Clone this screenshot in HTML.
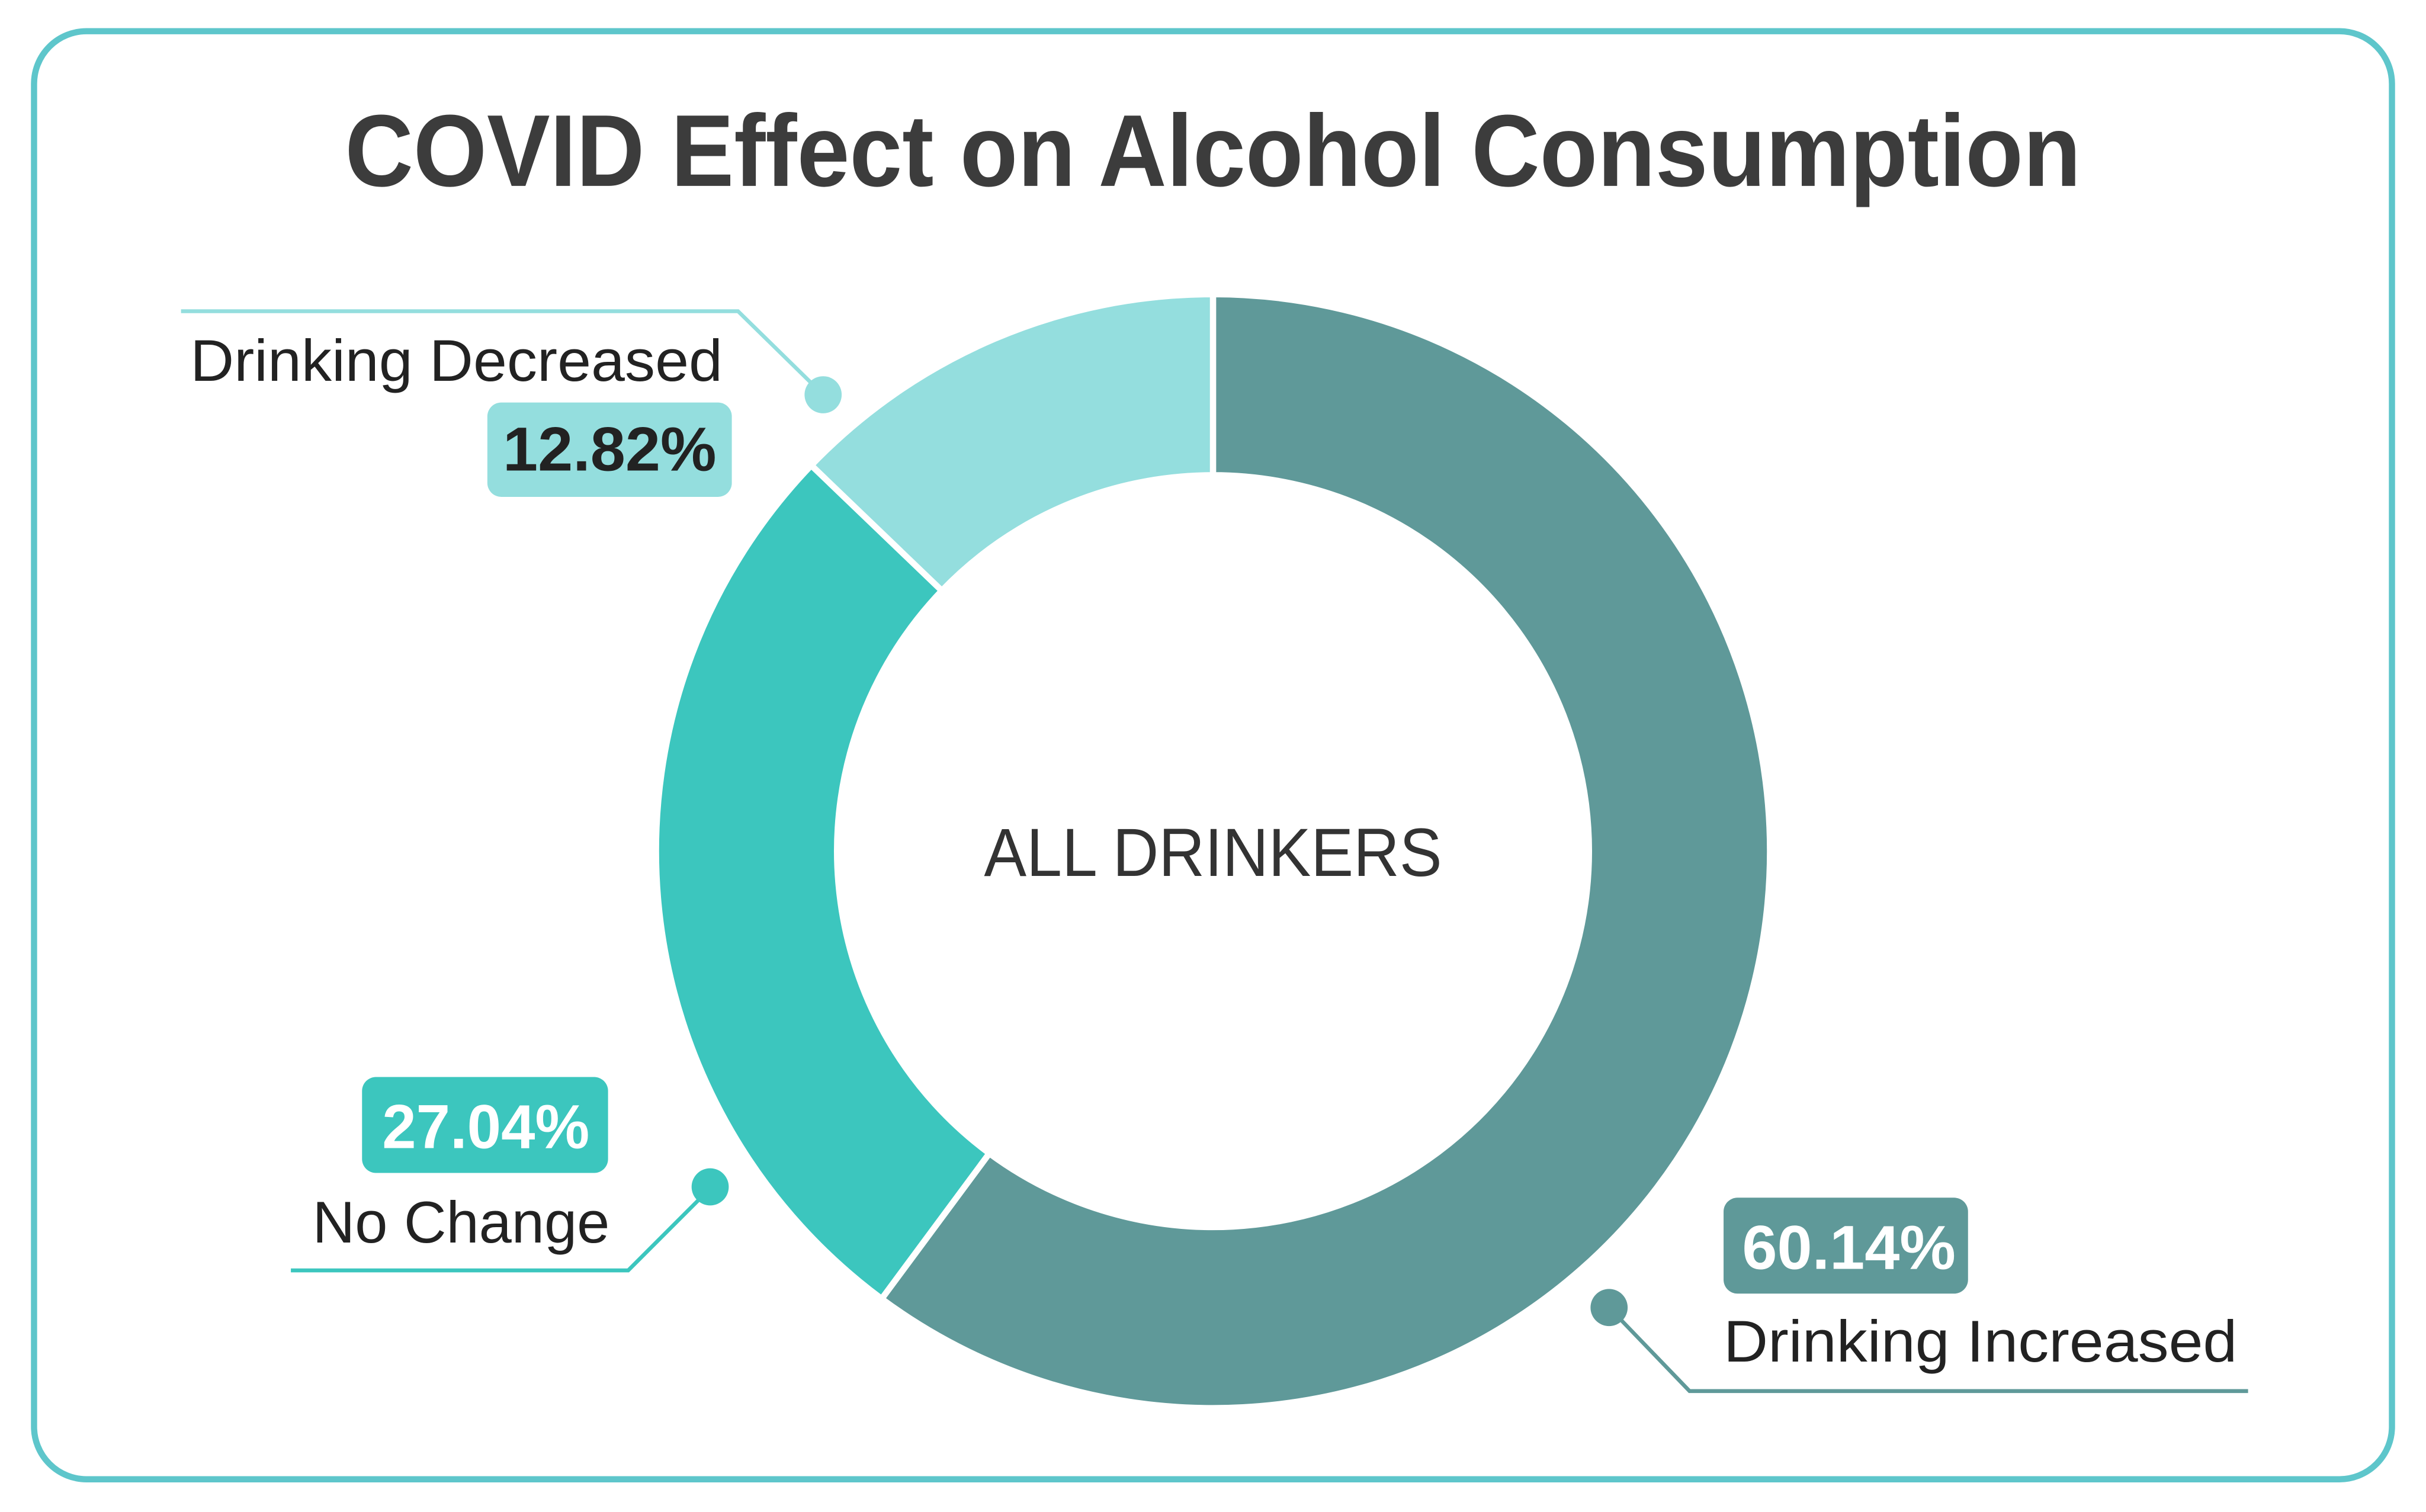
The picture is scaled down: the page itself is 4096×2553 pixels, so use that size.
<!DOCTYPE html>
<html><head><meta charset="utf-8"><style>
html,body{margin:0;padding:0;background:#fff;}
svg{display:block;}
text{font-family:"Liberation Sans",sans-serif;}
</style></head><body>
<svg id="chart" width="4096" height="2553" viewBox="0 0 1568 977" xmlns="http://www.w3.org/2000/svg">
<rect x="22" y="20" width="1524" height="936" rx="34" fill="#fff" stroke="#5ec6cb" stroke-width="4"/>
<text x="784" y="120" text-anchor="middle" font-size="66" font-weight="bold" fill="#3c3c3c" textLength="1122" lengthAdjust="spacingAndGlyphs">COVID Effect on Alcohol Consumption</text>
<g id="slices"></g>
<text x="784" y="566" text-anchor="middle" font-size="44" fill="#333" textLength="296" lengthAdjust="spacingAndGlyphs">ALL DRINKERS</text>

<g>
<polyline points="117,201 477,201 526,249" fill="none" stroke="#94dede" stroke-width="2.5"/>
<circle cx="532" cy="255" r="12" fill="#94dede"/>
<text x="467" y="246" text-anchor="end" font-size="38" fill="#222" textLength="344" lengthAdjust="spacingAndGlyphs">Drinking Decreased</text>
<rect x="315" y="260" width="158" height="61" rx="9" fill="#94dede"/>
<text id="pct-decreased" x="394" y="304" text-anchor="middle" font-size="40" font-weight="bold" fill="#222" textLength="138" lengthAdjust="spacingAndGlyphs"></text>
</g>

<g>
<polyline points="188,821 406,821 452,775" fill="none" stroke="#3cc6be" stroke-width="2.5"/>
<circle cx="459" cy="767" r="12" fill="#3cc6be"/>
<rect x="234" y="696" width="159" height="62" rx="9" fill="#3cc6be"/>
<text id="pct-nochange" x="314" y="742" text-anchor="middle" font-size="40" font-weight="bold" fill="#fff" textLength="134" lengthAdjust="spacingAndGlyphs"></text>
<text x="394" y="803" text-anchor="end" font-size="38" fill="#222" textLength="192" lengthAdjust="spacingAndGlyphs">No Change</text>
</g>

<g>
<polyline points="1040,845 1092,899 1453,899" fill="none" stroke="#5f9999" stroke-width="2.5"/>
<circle cx="1040" cy="845" r="12" fill="#5f9999"/>
<rect x="1114" y="774" width="158" height="62" rx="9" fill="#5f9999"/>
<text id="pct-increased" x="1195" y="820" text-anchor="middle" font-size="40" font-weight="bold" fill="#fff" textLength="138" lengthAdjust="spacingAndGlyphs"></text>
<text x="1114" y="880" font-size="38" fill="#222" textLength="332" lengthAdjust="spacingAndGlyphs">Drinking Increased</text>
</g>
</svg>
<script>
const categories = ["Drinking Increased", "No Change", "Drinking Decreased"];
const values = [60.14, 27.04, 12.82];
const sliceColors = ["#5f9999", "#3cc6be", "#94dede"];
const pctIds = ["pct-increased", "pct-nochange", "pct-decreased"];

const NS = "http://www.w3.org/2000/svg";
const cx = 784, cy = 550, R = 360, r = 243;
const total = values.reduce((a, b) => a + b, 0);
function pt(rad, ang) { return [cx + rad * Math.sin(ang), cy - rad * Math.cos(ang)]; }
const g = document.getElementById("slices");
let acc = 0;
values.forEach((v, i) => {
  const a0 = acc / total * 2 * Math.PI;
  acc += v;
  const a1 = acc / total * 2 * Math.PI;
  const large = (a1 - a0) > Math.PI ? 1 : 0;
  const [x0, y0] = pt(R, a0), [x1, y1] = pt(R, a1), [x2, y2] = pt(r, a1), [x3, y3] = pt(r, a0);
  const p = document.createElementNS(NS, "path");
  p.setAttribute("d", `M${x0},${y0} A${R},${R} 0 ${large} 1 ${x1},${y1} L${x2},${y2} A${r},${r} 0 ${large} 0 ${x3},${y3} Z`);
  p.setAttribute("fill", sliceColors[i]);
  p.setAttribute("stroke", "#fff");
  p.setAttribute("stroke-width", "4");
  
  
  g.appendChild(p);
  document.getElementById(pctIds[i]).textContent = v.toFixed(2) + "%";
});
</script>
</body></html>
